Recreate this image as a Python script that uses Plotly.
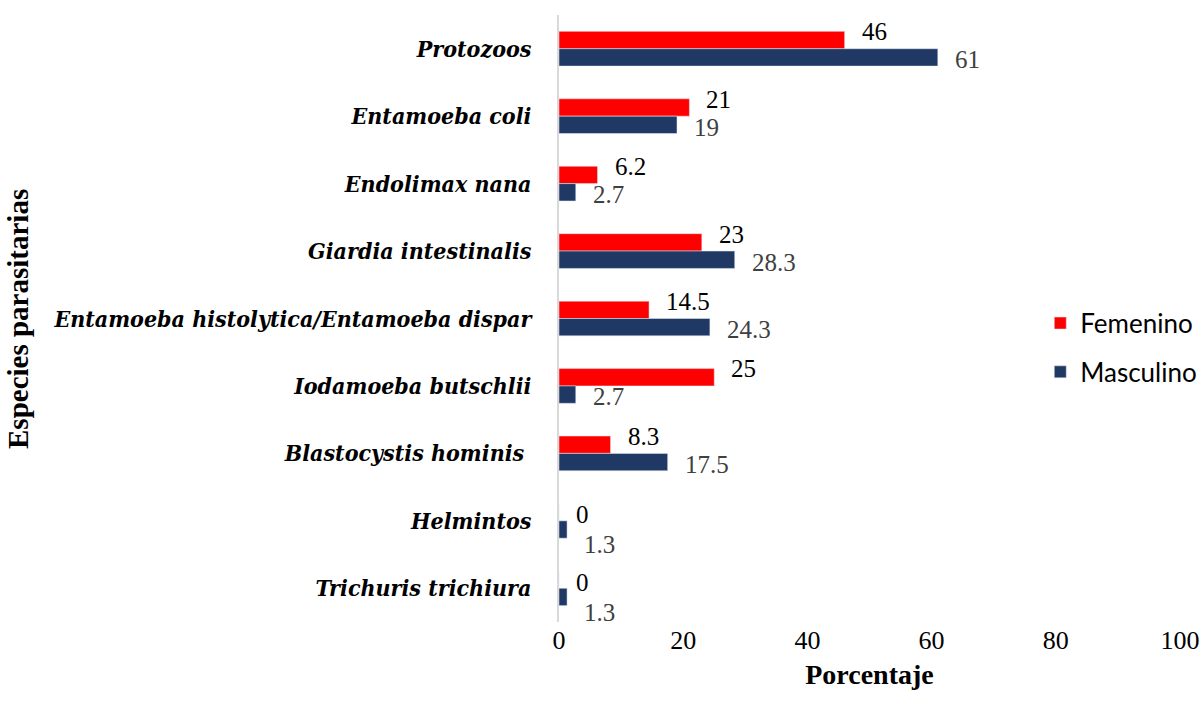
import plotly.graph_objects as go

categories = [
    "Protozoos",
    "Entamoeba coli",
    "Endolimax nana",
    "Giardia intestinalis",
    "Entamoeba histolytica/Entamoeba dispar",
    "Iodamoeba butschlii",
    "Blastocystis hominis ",
    "Helmintos",
    "Trichuris trichiura",
]
femenino = [46, 21, 6.2, 23, 14.5, 25, 8.3, 0, 0]
masculino = [61, 19, 2.7, 28.3, 24.3, 2.7, 17.5, 1.3, 1.3]
fem_labels = ["46", "21", "6.2", "23", "14.5", "25", "8.3", "0", "0"]
mas_labels = ["61", "19", "2.7", "28.3", "24.3", "2.7", "17.5", "1.3", "1.3"]
x_ticks = [0, 20, 40, 60, 80, 100]

RED = "#FF0000"
NAVY = "#203864"
SERIF = "Liberation Serif"
CAT_FONT = "DejaVu Serif Condensed, DejaVu Serif"

fig = go.Figure()
fig.add_trace(go.Bar(
    y=categories, x=femenino, orientation="h", name="Femenino",
    marker=dict(color=RED), legendgroup="f",
))
fig.add_trace(go.Bar(
    y=categories, x=masculino, orientation="h", name="Masculino",
    marker=dict(color=NAVY), legendgroup="m",
))

annotations = []
for cat, f, m, fl, ml in zip(categories, femenino, masculino, fem_labels, mas_labels):
    if f == 0:
        fy, my = 6, -24
    else:
        fy, my = 17, -11
    annotations.append(dict(
        x=f, y=cat, xref="x", yref="y", text=fl, showarrow=False,
        xanchor="left", yanchor="middle", xshift=15, yshift=fy,
        font=dict(family=SERIF, size=25, color="#000000"),
    ))
    annotations.append(dict(
        x=m, y=cat, xref="x", yref="y", text=ml, showarrow=False,
        xanchor="left", yanchor="middle", xshift=15, yshift=my,
        font=dict(family=SERIF, size=25, color="#404040"),
    ))

annotations.append(dict(
    x=-0.872, y=0.5, xref="paper", yref="paper", text="<b>Especies parasitarias</b>",
    showarrow=False, textangle=-90, xanchor="center", yanchor="middle",
    font=dict(family=SERIF, size=29, color="#000000"),
))

fig.update_layout(
    width=1203, height=709,
    margin=dict(l=559, r=23, t=15, b=87, autoexpand=False),
    plot_bgcolor="white", paper_bgcolor="white",
    barmode="group", bargap=0.485, bargroupgap=0,
    annotations=annotations,
    legend=dict(
        x=0.775, y=0.452, xref="paper", yref="paper",
        xanchor="left", yanchor="middle",
        traceorder="grouped", tracegroupgap=12,
        font=dict(family="Lato", size=26, color="#000000"),
        bgcolor="rgba(0,0,0,0)",
    ),
    showlegend=True,
)
fig.update_xaxes(
    range=[0, 100], tickvals=x_ticks, showgrid=False, zeroline=False,
    showline=False, ticks="", automargin=False,
    tickfont=dict(family=SERIF, size=26, color="#000000"),
    title=dict(text="<b>Porcentaje</b>", font=dict(family=SERIF, size=28, color="#000000"), standoff=10),
)
fig.update_yaxes(
    autorange="reversed", showgrid=False, zeroline=False, automargin=False,
    showline=True, linecolor="#D9D9D9", linewidth=2, ticks="",
    ticklabelstandoff=21,
    tickfont=dict(family=CAT_FONT, size=23, color="#000000", weight="bold", style="italic"),
)

fig.write_html(
    "out.html",
    config={"displayModeBar": False},
    post_script="document.body.style.margin='0';document.body.style.overflow='hidden';",
)
